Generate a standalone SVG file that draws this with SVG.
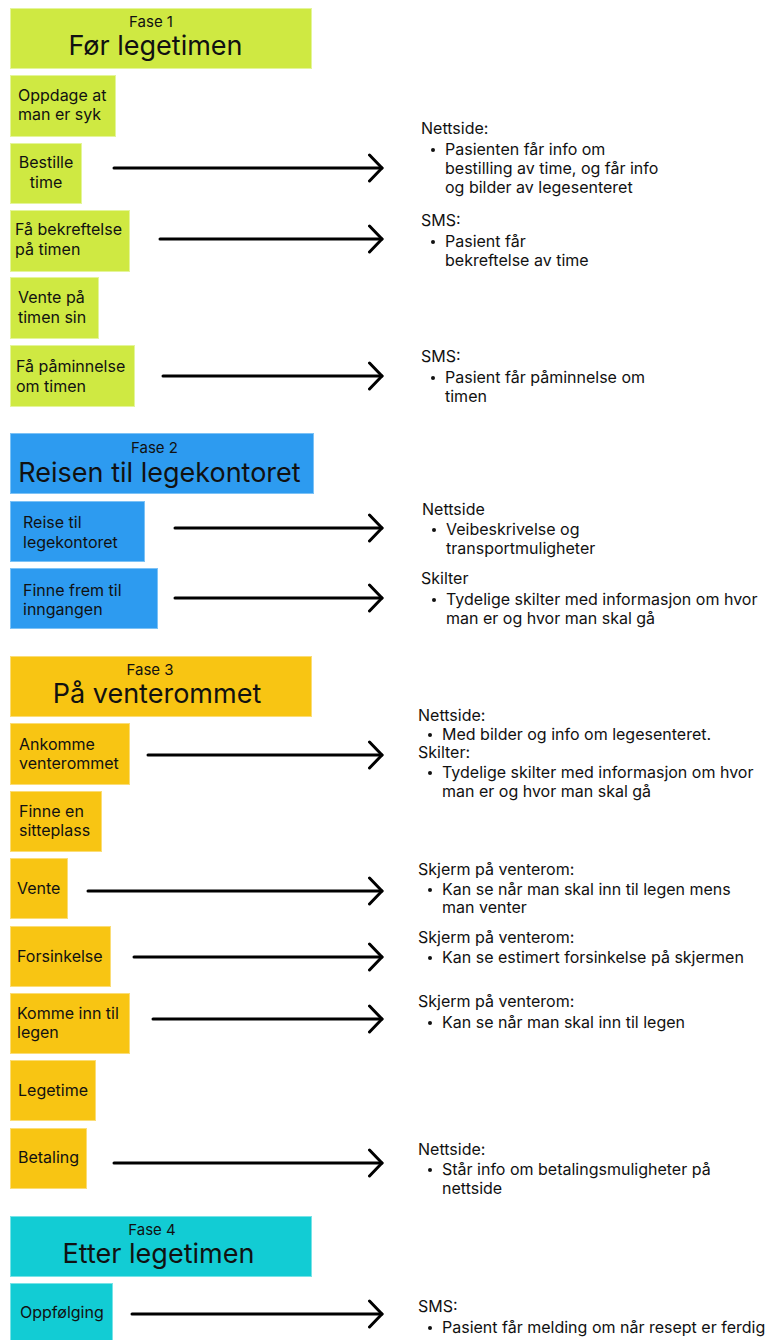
<svg xmlns="http://www.w3.org/2000/svg" width="773" height="1340" viewBox="0 0 773 1340">
  <style>
    text { font-family: Inter, "Noto Sans", "Liberation Sans", sans-serif; fill: #111; }
    .fase { font-size: 15px; }
    .title { font-size: 27px; }
    .step { font-size: 16px; }
    .note { font-size: 16px; }
    .p1 { fill: #CFE942; stroke: #E4F59A; stroke-width: 1; }
    .p2 { fill: #2D9BF0; stroke: #7CC2F6; stroke-width: 1; }
    .p3 { fill: #F8C513; stroke: #FBDD76; stroke-width: 1; }
    .p4 { fill: #12CCD4; stroke: #78E3E7; stroke-width: 1; }
    .conn { stroke: #000; stroke-width: 3; fill: none; stroke-linecap: round; stroke-linejoin: round; }
    .dot { fill: #111; }
  </style>
  <defs>
    <marker id="chevron" viewBox="0 0 16 30" refX="14" refY="15" markerWidth="16" markerHeight="30" markerUnits="userSpaceOnUse" orient="auto">
      <path d="M1.5 2 L14 15 L1.5 28" fill="none" stroke="#000" stroke-width="3" stroke-linecap="round" stroke-linejoin="round"/>
    </marker>
  </defs>
  <rect width="773" height="1340" fill="#fff"/>

  <!-- Phase 1 -->
  <g id="fase1">
    <rect class="p1" x="10.5" y="8.5" width="301" height="60"/>
    <text class="fase" x="151" y="27" text-anchor="middle">Fase 1</text>
    <text class="title" x="155.5" y="55" text-anchor="middle">Før legetimen</text>
  </g>
  <g id="oppdage">
    <rect class="p1" x="10.5" y="75.5" width="105" height="61"/>
    <text class="step" x="18" y="101">Oppdage at</text>
    <text class="step" x="18" y="120">man er syk</text>
  </g>
  <g id="bestille">
    <rect class="p1" x="10.5" y="143.5" width="71" height="60"/>
    <text class="step" x="46" y="168" text-anchor="middle">Bestille</text>
    <text class="step" x="46" y="188" text-anchor="middle">time</text>
  </g>
  <g id="bekreftelse">
    <rect class="p1" x="10.5" y="210.5" width="119" height="61"/>
    <text class="step" x="15" y="235">Få bekreftelse</text>
    <text class="step" x="15" y="255">på timen</text>
  </g>
  <g id="vente-paa">
    <rect class="p1" x="10.5" y="277.5" width="88" height="61"/>
    <text class="step" x="18" y="303">Vente på</text>
    <text class="step" x="18" y="323">timen sin</text>
  </g>
  <g id="paaminnelse">
    <rect class="p1" x="10.5" y="345.5" width="124" height="61"/>
    <text class="step" x="16" y="372">Få påminnelse</text>
    <text class="step" x="16" y="392">om timen</text>
  </g>

  <!-- Phase 2 -->
  <g id="fase2">
    <rect class="p2" x="10.5" y="433.5" width="303" height="60"/>
    <text class="fase" x="154.5" y="453" text-anchor="middle">Fase 2</text>
    <text class="title" x="159.5" y="482" text-anchor="middle">Reisen til legekontoret</text>
  </g>
  <g id="reise">
    <rect class="p2" x="10.5" y="501.5" width="134" height="60"/>
    <text class="step" x="23" y="528">Reise til</text>
    <text class="step" x="23" y="548">legekontoret</text>
  </g>
  <g id="finne-frem">
    <rect class="p2" x="10.5" y="568.5" width="147" height="60"/>
    <text class="step" x="23" y="596">Finne frem til</text>
    <text class="step" x="23" y="615">inngangen</text>
  </g>

  <!-- Phase 3 -->
  <g id="fase3">
    <rect class="p3" x="10.5" y="656.5" width="301" height="60"/>
    <text class="fase" x="150" y="675" text-anchor="middle">Fase 3</text>
    <text class="title" x="157" y="703" text-anchor="middle">På venterommet</text>
  </g>
  <g id="ankomme">
    <rect class="p3" x="10.5" y="723.5" width="119" height="61"/>
    <text class="step" x="19" y="750">Ankomme</text>
    <text class="step" x="19" y="769">venterommet</text>
  </g>
  <g id="sitteplass">
    <rect class="p3" x="10.5" y="791.5" width="91" height="60"/>
    <text class="step" x="19" y="817">Finne en</text>
    <text class="step" x="19" y="836">sitteplass</text>
  </g>
  <g id="vente">
    <rect class="p3" x="10.5" y="858.5" width="57" height="60"/>
    <text class="step" x="17" y="894">Vente</text>
  </g>
  <g id="forsinkelse">
    <rect class="p3" x="10.5" y="926.5" width="100" height="60"/>
    <text class="step" x="17" y="962">Forsinkelse</text>
  </g>
  <g id="komme-inn">
    <rect class="p3" x="10.5" y="993.5" width="119" height="60"/>
    <text class="step" x="17" y="1019">Komme inn til</text>
    <text class="step" x="17" y="1038">legen</text>
  </g>
  <g id="legetime">
    <rect class="p3" x="10.5" y="1060.5" width="85" height="60"/>
    <text class="step" x="18" y="1096">Legetime</text>
  </g>
  <g id="betaling">
    <rect class="p3" x="10.5" y="1128.5" width="76" height="60"/>
    <text class="step" x="18" y="1163">Betaling</text>
  </g>

  <!-- Phase 4 -->
  <g id="fase4">
    <rect class="p4" x="10.5" y="1216.5" width="301" height="60"/>
    <text class="fase" x="152" y="1235" text-anchor="middle">Fase 4</text>
    <text class="title" x="158.5" y="1263" text-anchor="middle">Etter legetimen</text>
  </g>
  <g id="oppfolging">
    <rect class="p4" x="10.5" y="1283.5" width="102" height="62"/>
    <text class="step" x="20" y="1318">Oppfølging</text>
  </g>

  <!-- Notes on the right -->
  <g id="note-bestille">
    <text class="note" x="421" y="134">Nettside:</text>
    <circle class="dot" cx="433" cy="150" r="2"/>
    <text class="note" x="445" y="155">Pasienten får info om</text>
    <text class="note" x="445" y="174">bestilling av time, og får info</text>
    <text class="note" x="445" y="193">og bilder av legesenteret</text>
  </g>
  <g id="note-bekreftelse">
    <text class="note" x="421" y="226">SMS:</text>
    <circle class="dot" cx="433" cy="242" r="2"/>
    <text class="note" x="445" y="247">Pasient får</text>
    <text class="note" x="445" y="266">bekreftelse av time</text>
  </g>
  <g id="note-paaminnelse">
    <text class="note" x="421" y="362">SMS:</text>
    <circle class="dot" cx="433" cy="378" r="2"/>
    <text class="note" x="445" y="383">Pasient får påminnelse om</text>
    <text class="note" x="445" y="402">timen</text>
  </g>
  <g id="note-reise">
    <text class="note" x="422" y="515">Nettside</text>
    <circle class="dot" cx="434" cy="530" r="2"/>
    <text class="note" x="446" y="535">Veibeskrivelse og</text>
    <text class="note" x="446" y="554">transportmuligheter</text>
  </g>
  <g id="note-finne-frem">
    <text class="note" x="421" y="584">Skilter</text>
    <circle class="dot" cx="434" cy="600" r="2"/>
    <text class="note" x="446" y="605">Tydelige skilter med informasjon om hvor</text>
    <text class="note" x="446" y="624">man er og hvor man skal gå</text>
  </g>
  <g id="note-ankomme">
    <text class="note" x="418" y="721">Nettside:</text>
    <circle class="dot" cx="430" cy="735" r="2"/>
    <text class="note" x="442" y="740">Med bilder og info om legesenteret.</text>
    <text class="note" x="418" y="758">Skilter:</text>
    <circle class="dot" cx="430" cy="773" r="2"/>
    <text class="note" x="442" y="778">Tydelige skilter med informasjon om hvor</text>
    <text class="note" x="442" y="797">man er og hvor man skal gå</text>
  </g>
  <g id="note-vente">
    <text class="note" x="418" y="875">Skjerm på venterom:</text>
    <circle class="dot" cx="430" cy="890" r="2"/>
    <text class="note" x="442" y="895">Kan se når man skal inn til legen mens</text>
    <text class="note" x="442" y="913">man venter</text>
  </g>
  <g id="note-forsinkelse">
    <text class="note" x="418" y="943">Skjerm på venterom:</text>
    <circle class="dot" cx="430" cy="958" r="2"/>
    <text class="note" x="442" y="963">Kan se estimert forsinkelse på skjermen</text>
  </g>
  <g id="note-komme-inn">
    <text class="note" x="418" y="1007">Skjerm på venterom:</text>
    <circle class="dot" cx="430" cy="1023" r="2"/>
    <text class="note" x="442" y="1028">Kan se når man skal inn til legen</text>
  </g>
  <g id="note-betaling">
    <text class="note" x="418" y="1155">Nettside:</text>
    <circle class="dot" cx="430" cy="1170" r="2"/>
    <text class="note" x="442" y="1175">Står info om betalingsmuligheter på</text>
    <text class="note" x="442" y="1194">nettside</text>
  </g>
  <g id="note-oppfolging">
    <text class="note" x="418" y="1312">SMS:</text>
    <circle class="dot" cx="430" cy="1328" r="2"/>
    <text class="note" x="442" y="1333">Pasient får melding om når resept er ferdig</text>
  </g>

  <!-- Connectors -->
  <g id="connectors">
    <line class="conn" x1="114" y1="168" x2="382" y2="168" marker-end="url(#chevron)"/>
    <line class="conn" x1="160" y1="239" x2="382" y2="239" marker-end="url(#chevron)"/>
    <line class="conn" x1="163" y1="376" x2="382" y2="376" marker-end="url(#chevron)"/>
    <line class="conn" x1="175" y1="528" x2="382" y2="528" marker-end="url(#chevron)"/>
    <line class="conn" x1="175" y1="598" x2="382" y2="598" marker-end="url(#chevron)"/>
    <line class="conn" x1="148" y1="755" x2="382" y2="755" marker-end="url(#chevron)"/>
    <line class="conn" x1="88" y1="891" x2="382" y2="891" marker-end="url(#chevron)"/>
    <line class="conn" x1="134" y1="957" x2="382" y2="957" marker-end="url(#chevron)"/>
    <line class="conn" x1="153" y1="1019" x2="382" y2="1019" marker-end="url(#chevron)"/>
    <line class="conn" x1="114" y1="1163" x2="382" y2="1163" marker-end="url(#chevron)"/>
    <line class="conn" x1="132" y1="1314" x2="382" y2="1314" marker-end="url(#chevron)"/>
  </g>
</svg>
